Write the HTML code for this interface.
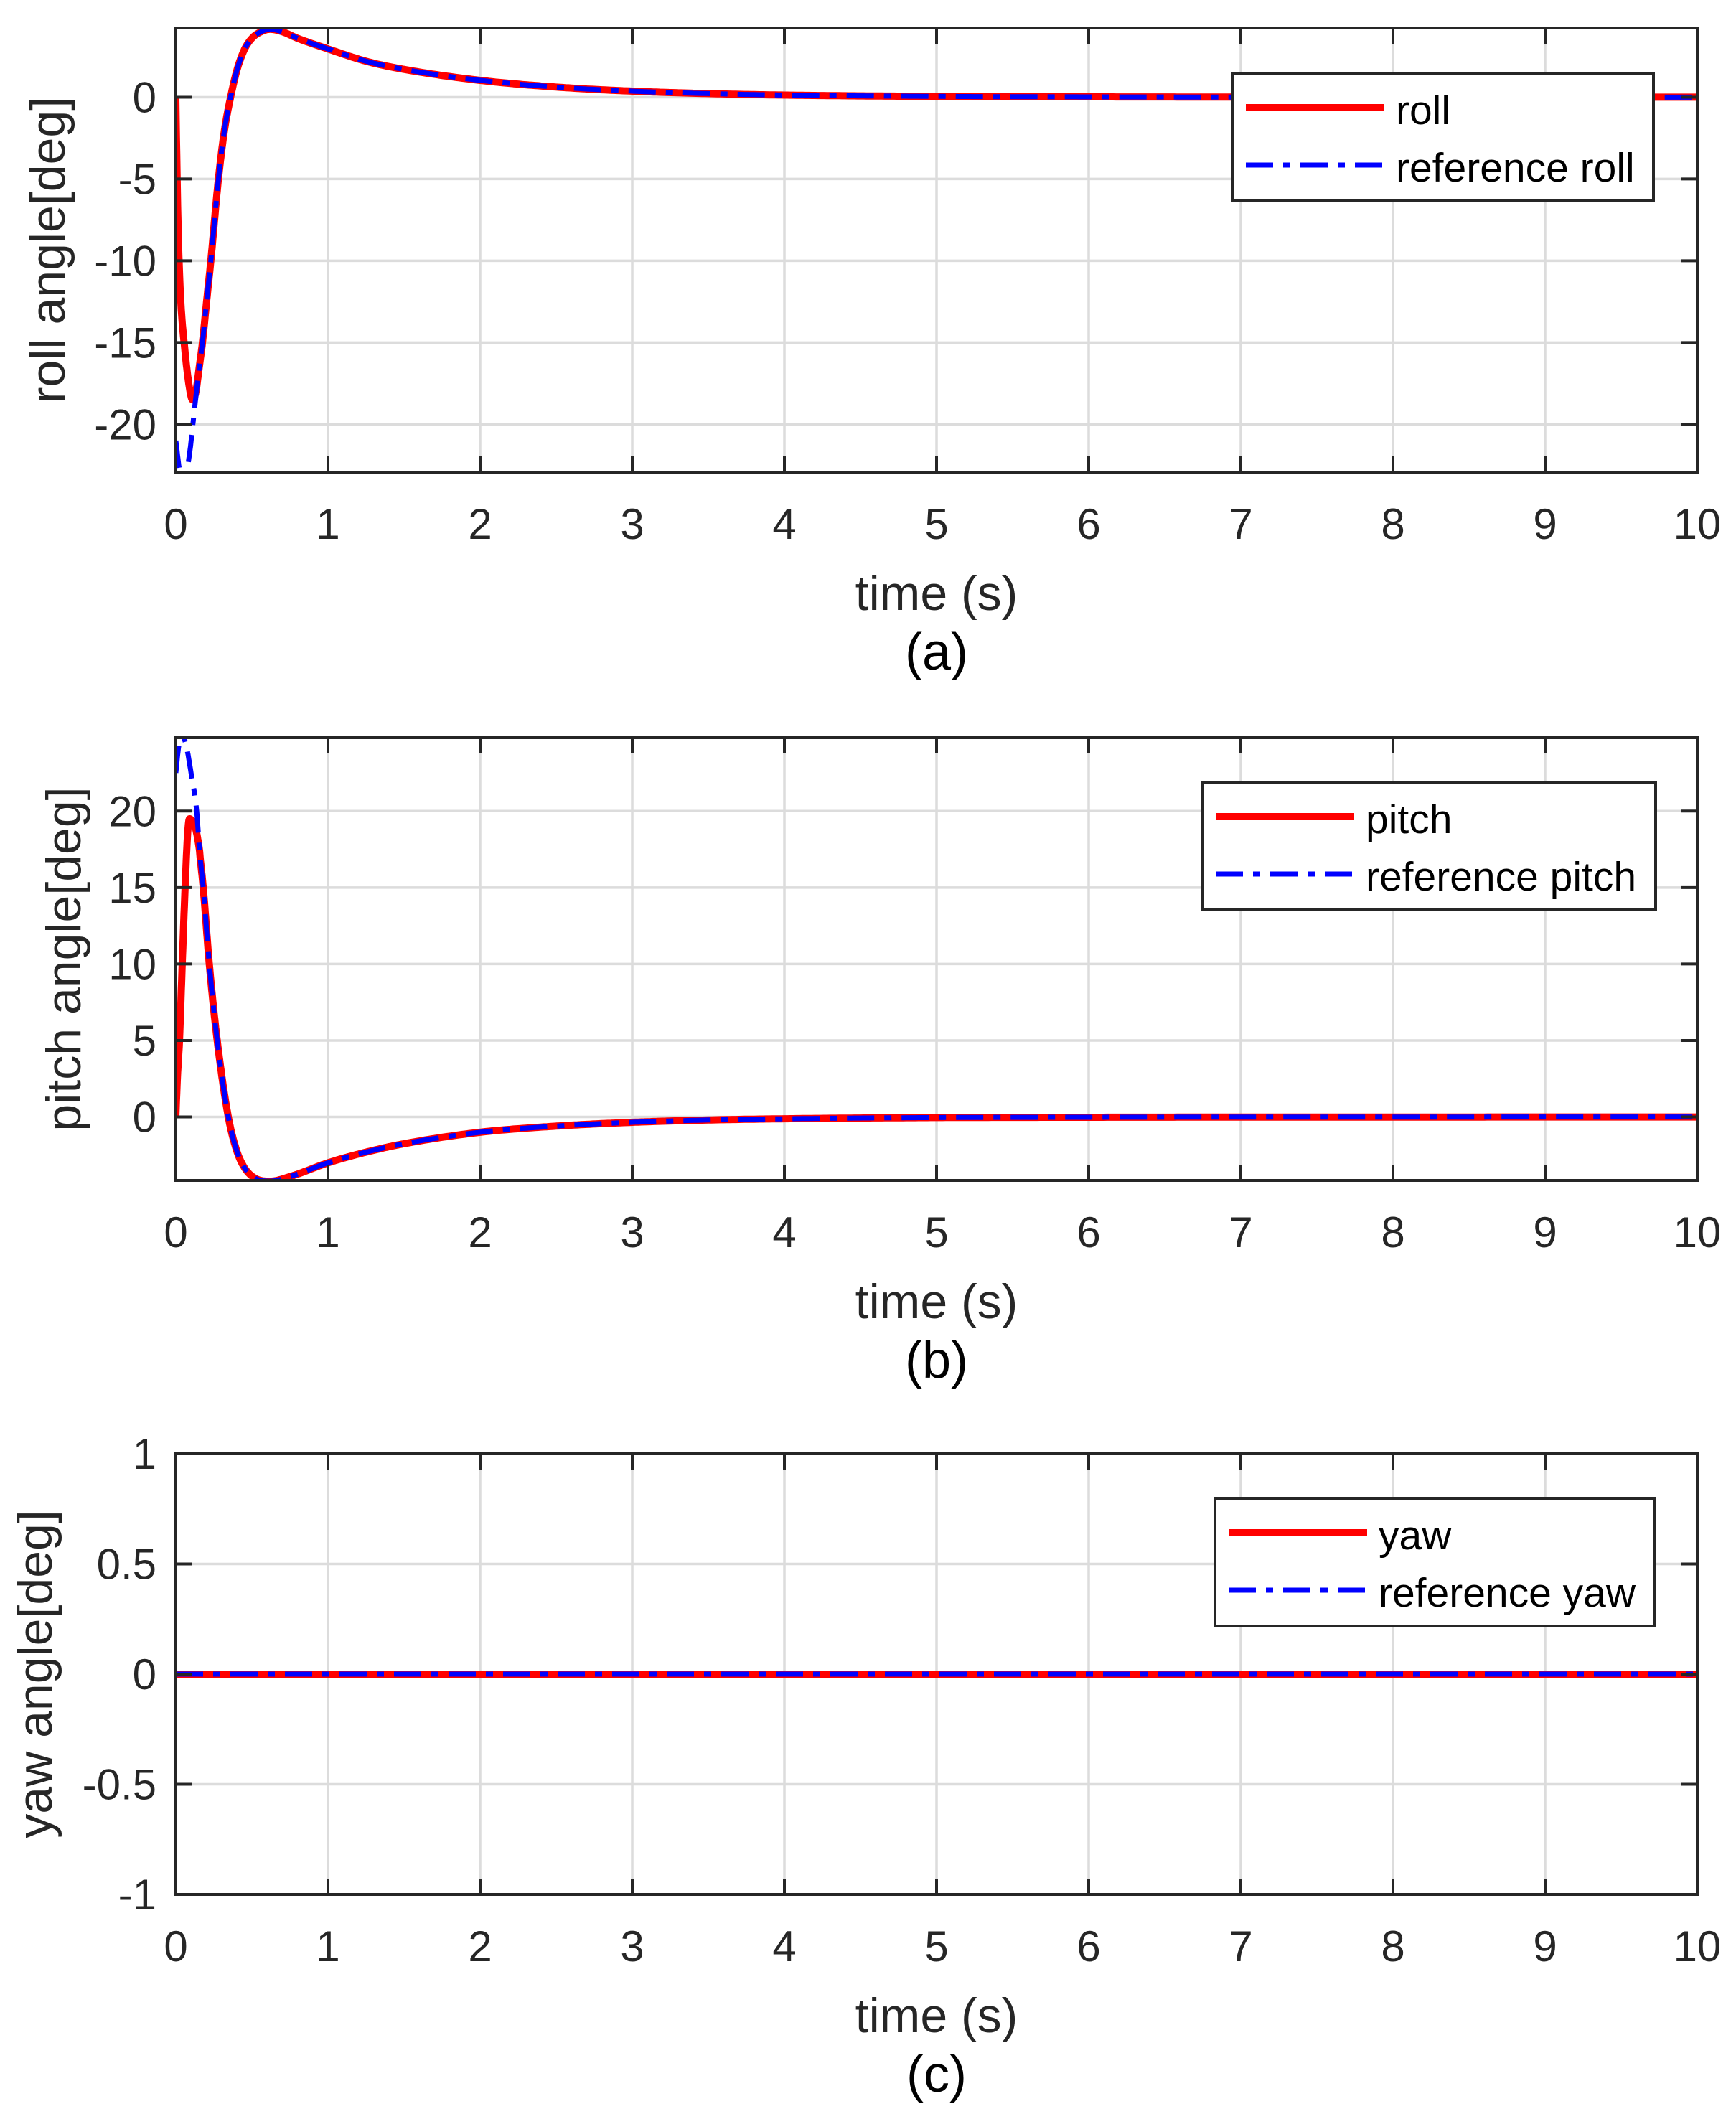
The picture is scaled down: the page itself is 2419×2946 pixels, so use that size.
<!DOCTYPE html>
<html><head><meta charset="utf-8">
<style>
html,body{margin:0;padding:0;background:#fff;}
svg{display:block;}
text{font-family:"Liberation Sans",Arial,sans-serif;}
</style></head>
<body>
<svg id="s" xmlns="http://www.w3.org/2000/svg" width="2419" height="2946" viewBox="0 0 2419 2946">
<rect width="2419" height="2946" fill="#fff"/>
</svg>
<script>
(function(){
const NS="http://www.w3.org/2000/svg";
const svg=document.getElementById('s');
function el(tag,attrs,parent,text){const e=document.createElementNS(NS,tag);for(const k in attrs)e.setAttribute(k,attrs[k]);if(text!==undefined)e.textContent=text;(parent||svg).appendChild(e);return e;}
const L=245,R=2365;
function X(t){return L+(R-L)*t/10;}
// monotone cubic interpolation
function interp(pts){
  const n=pts.length,xs=pts.map(p=>p[0]),ys=pts.map(p=>p[1]);
  const d=[],m=new Array(n);
  for(let i=0;i<n-1;i++)d.push((ys[i+1]-ys[i])/(xs[i+1]-xs[i]));
  m[0]=d[0];m[n-1]=d[n-2];
  for(let i=1;i<n-1;i++){ if(d[i-1]*d[i]<=0)m[i]=0; else m[i]=(d[i-1]+d[i])/2; }
  for(let i=0;i<n-1;i++){ if(d[i]===0){m[i]=0;m[i+1]=0;continue;} const a=m[i]/d[i],b=m[i+1]/d[i];const s=a*a+b*b; if(s>9){const t=3/Math.sqrt(s);m[i]=t*a*d[i];m[i+1]=t*b*d[i];} }
  return function(x){
    if(x<=xs[0])return ys[0]; if(x>=xs[n-1])return ys[n-1];
    let i=0;while(x>xs[i+1])i++;
    const h=xs[i+1]-xs[i],t=(x-xs[i])/h,t2=t*t,t3=t2*t;
    return (2*t3-3*t2+1)*ys[i]+(t3-2*t2+t)*h*m[i]+(-2*t3+3*t2)*ys[i+1]+(t3-t2)*h*m[i+1];
  };
}
function sample(f){const a=[];let t=0;while(t<=10.0001){a.push([t,f(t)]);t+= t<1.5?0.002:0.02;}return a;}
const dash="38 14 10 14";
const panels=[
 {top:39,bot:658,ymin:-22.92,ymax:4.23,ticks:[-20,-15,-10,-5,0],ylabel:"roll angle[deg]",ylx:90,cap:"(a)",
  leg:{x:1717,y:102,w:587,h:177,a:"roll",b:"reference roll"},
  ref:[[0,-21],[0.03,-23],[0.06,-23.2],[0.09,-21.8],[0.12,-19.3],[0.15,-16.8],[0.175,-15],[0.2,-12.7],[0.23,-10],[0.28,-5],[0.32,-2],[0.36,0],[0.4,1.6],[0.45,2.9],[0.5,3.6],[0.56,4.0],[0.62,4.15],[0.7,4.0],[0.8,3.6],[1.0,2.95],[1.25,2.2],[1.5,1.7],[2,1.03],[2.5,0.62],[3,0.37],[3.5,0.22],[4,0.13],[5,0.05],[6,0.02],[7,0.01],[10,0]],
  act:[[0,0],[0.005,-3],[0.015,-8],[0.03,-12],[0.06,-15.5],[0.09,-17.8],[0.11,-18.5],[0.13,-18.1],[0.15,-16.8]]},
 {top:1028,bot:1645,ymin:-4.15,ymax:24.8,ticks:[0,5,10,15,20],ylabel:"pitch angle[deg]",ylx:112,cap:"(b)",
  leg:{x:1675,y:1090,w:632,h:178,a:"pitch",b:"reference pitch"},
  ref:[[0,22.5],[0.02,24.3],[0.045,24.9],[0.07,24.2],[0.1,22.5],[0.137,20],[0.155,17.5],[0.18,15],[0.22,10],[0.272,5],[0.345,0],[0.4,-2.2],[0.45,-3.3],[0.52,-4.0],[0.62,-4.2],[0.75,-3.9],[1,-3.0],[1.25,-2.3],[1.5,-1.75],[2,-1.0],[2.5,-0.6],[3,-0.35],[3.5,-0.2],[4,-0.12],[5,-0.04],[6,-0.02],[10,0]],
  act:[[0,0],[0.01,2.5],[0.024,5],[0.042,10],[0.061,15],[0.078,18.6],[0.09,19.5],[0.105,19.4],[0.12,19.2],[0.14,18.4],[0.155,17.5]]},
 {top:2026,bot:2640,ymin:-1,ymax:1,ticks:[-1,-0.5,0,0.5,1],ylabel:"yaw angle[deg]",ylx:72,cap:"(c)",
  leg:{x:1693,y:2088,w:612,h:178,a:"yaw",b:"reference yaw"},
  ref:[[0,0],[10,0]],act:null}
];
panels.forEach((p,pi)=>{
  const Y=v=>p.bot-(v-p.ymin)/(p.ymax-p.ymin)*(p.bot-p.top);
  const g=el('g',{});
  // grid
  for(let i=1;i<10;i++) el('line',{x1:X(i),x2:X(i),y1:p.top,y2:p.bot,stroke:"#dcdcdc","stroke-width":3.5},g);
  p.ticks.forEach(v=>{const y=Y(v);if(y>p.top+3&&y<p.bot-3)el('line',{x1:L,x2:R,y1:y,y2:y,stroke:"#dcdcdc","stroke-width":3.5},g);});
  // clip
  const cid="c"+pi;const cp=el('clipPath',{id:cid});el('rect',{x:L,y:p.top,width:R-L,height:p.bot-p.top},cp);
  const cg=el('g',{"clip-path":"url(#"+cid+")"});
  const fr=interp(p.ref);
  let actPts;
  if(p.act){const fa=interp(p.act);const tEnd=p.act[p.act.length-1][0];actPts=sample(t=>t<=tEnd?fa(t):fr(t));}
  else actPts=[[0,0],[10,0]];
  const refPts=p.act?sample(fr):[[0,0],[10,0]];
  const toD=a=>"M"+a.map(q=>X(q[0]).toFixed(1)+","+Y(q[1]).toFixed(1)).join("L");
  el('path',{d:toD(actPts),fill:"none",stroke:"#ff0000","stroke-width":10,"stroke-linejoin":"round"},cg);
  el('path',{d:toD(refPts),fill:"none",stroke:"#0000ff","stroke-width":7,"stroke-dasharray":dash},cg);
  // box
  el('rect',{x:L,y:p.top,width:R-L,height:p.bot-p.top,fill:"none",stroke:"#262626","stroke-width":4},g.parentNode);
  // ticks
  const tk=el('g',{stroke:"#262626","stroke-width":4});
  for(let i=1;i<10;i++){el('line',{x1:X(i),x2:X(i),y1:p.bot,y2:p.bot-22},tk);el('line',{x1:X(i),x2:X(i),y1:p.top,y2:p.top+22},tk);}
  p.ticks.forEach(v=>{const y=Y(v);el('line',{x1:L,x2:L+22,y1:y,y2:y},tk);el('line',{x1:R,x2:R-22,y1:y,y2:y},tk);});
  // tick labels
  for(let i=0;i<=10;i++) el('text',{x:X(i),y:p.bot+93,"font-size":60,"text-anchor":"middle",fill:"#262626"},null,String(i));
  p.ticks.forEach(v=>el('text',{x:218,y:Y(v)+21,"font-size":60,"text-anchor":"end",fill:"#262626"},null,String(v)));
  el('text',{x:(L+R)/2,y:p.bot+192,"font-size":68,"text-anchor":"middle",fill:"#262626"},null,"time (s)");
  el('text',{x:(L+R)/2,y:p.bot+275,"font-size":72,"text-anchor":"middle",fill:"#000"},null,p.cap);
  const cy=(p.top+p.bot)/2;
  el('text',{x:0,y:0,"font-size":68,"text-anchor":"middle",fill:"#262626",transform:"translate("+p.ylx+","+cy+") rotate(-90)"},null,p.ylabel);
  // legend
  const lg=p.leg;
  el('rect',{x:lg.x,y:lg.y,width:lg.w,height:lg.h,fill:"#fff",stroke:"#262626","stroke-width":4});
  el('line',{x1:lg.x+19,x2:lg.x+212,y1:lg.y+48,y2:lg.y+48,stroke:"#ff0000","stroke-width":10});
  el('line',{x1:lg.x+19,x2:lg.x+212,y1:lg.y+128,y2:lg.y+128,stroke:"#0000ff","stroke-width":7,"stroke-dasharray":dash});
  el('text',{x:lg.x+228,y:lg.y+71,"font-size":57,fill:"#000"},null,lg.a);
  el('text',{x:lg.x+228,y:lg.y+151,"font-size":57,fill:"#000"},null,lg.b);
});
})();
</script>
</body></html>
